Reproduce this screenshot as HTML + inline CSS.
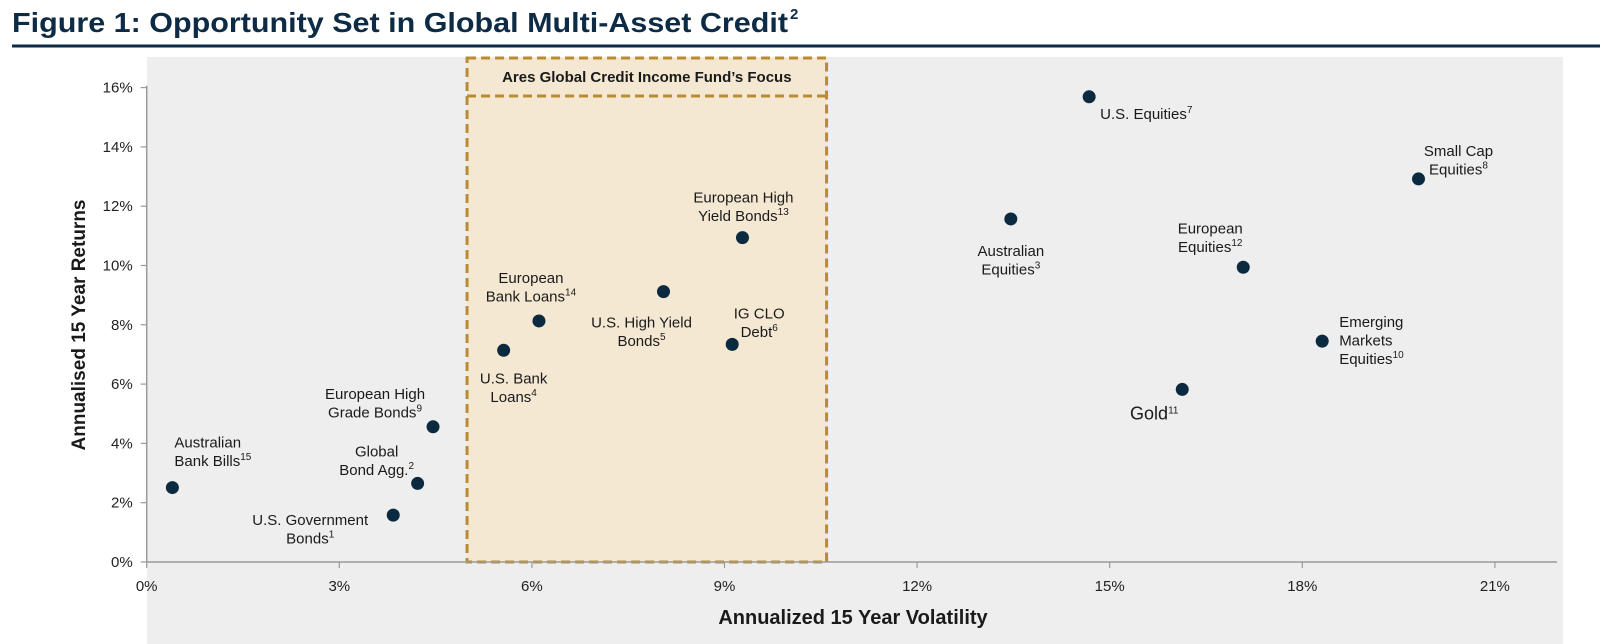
<!DOCTYPE html>
<html><head><meta charset="utf-8"><style>
html,body{margin:0;padding:0;background:#fff;}
svg{display:block;font-family:"Liberation Sans",sans-serif;}
</style></head><body>
<svg id="chart" width="1612" height="644" viewBox="0 0 1612 644" xmlns="http://www.w3.org/2000/svg">
  <text x="12" y="32" font-size="28" font-weight="bold" fill="#0d2b45" textLength="776" lengthAdjust="spacingAndGlyphs">Figure 1: Opportunity Set in Global Multi-Asset Credit</text>
  <text x="790" y="19" font-size="15" font-weight="bold" fill="#0d2b45">2</text>
  <rect x="12" y="44.5" width="1588" height="3" fill="#0d2b45"/>
  <rect x="147" y="57" width="1416" height="587" fill="#eeeeee"/>
  <g id="focus"></g>
  <g id="axes"></g>
  <g id="marks"></g>
  <text transform="translate(85,325) rotate(-90)" text-anchor="middle" font-size="19" font-weight="bold" fill="#1a1a1a">Annualised 15 Year Returns</text>
  <text x="853" y="624" text-anchor="middle" font-size="20" font-weight="bold" fill="#1a1a1a">Annualized 15 Year Volatility</text>
</svg>
<script>
const names = ["Australian Bank Bills","U.S. Government Bonds","Global Bond Agg.","European High Grade Bonds","U.S. Bank Loans","European Bank Loans","U.S. High Yield Bonds","IG CLO Debt","European High Yield Bonds","U.S. Equities","Small Cap Equities","Australian Equities","European Equities","Emerging Markets Equities","Gold"];
const volatility = [0.40,3.84,4.22,4.46,5.56,6.11,8.05,9.12,9.28,14.68,19.81,13.46,17.08,18.31,16.13];
const returns = [2.51,1.58,2.65,4.56,7.14,8.13,9.12,7.34,10.94,15.69,12.92,11.57,9.94,7.45,5.82];
const xTicks = [0,3,6,9,12,15,18,21];
const yTicks = [0,2,4,6,8,10,12,14,16];
const focusRange = [4.99,10.59];
const labelLines = [
 [["Australian",""],["Bank Bills","15"]],
 [["U.S. Government",""],["Bonds","1"]],
 [["Global",""],["Bond Agg.","2"]],
 [["European High",""],["Grade Bonds","9"]],
 [["U.S. Bank",""],["Loans","4"]],
 [["European",""],["Bank Loans","14"]],
 [["U.S. High Yield",""],["Bonds","5"]],
 [["IG CLO",""],["Debt","6"]],
 [["European High",""],["Yield Bonds","13"]],
 [["U.S. Equities","7"]],
 [["Small Cap",""],["Equities","8"]],
 [["Australian",""],["Equities","3"]],
 [["European",""],["Equities","12"]],
 [["Emerging",""],["Markets",""],["Equities","10"]],
 [["Gold","11"]]
];
const labelPos = [
 [2,-45,"start"],[-83,5,"middle"],[-41,-32,"middle"],[-58,-33,"middle"],[10,28,"middle"],[-8,-43,"middle"],
 [-22,31,"middle"],[27,-31,"middle"],[1,-40,"middle"],[11,17,"start"],[40,-28,"middle"],[0,32,"middle"],
 [-33,-39,"middle"],[17,-19,"start"],[-28,25,"middle"]
];
const X0=146.7, XS=64.2, Y0=562, YS=29.65;
const xs=v=>X0+v*XS, ys=v=>Y0-v*YS;
const NS="http://www.w3.org/2000/svg";
function mk(tag,attrs,parent){const e=document.createElementNS(NS,tag);for(const k in attrs)e.setAttribute(k,attrs[k]);parent.appendChild(e);return e;}
const axes=document.getElementById('axes'), marks=document.getElementById('marks'), focus=document.getElementById('focus');
const fx1=xs(focusRange[0]), fx2=xs(focusRange[1]);
const fb=mk('rect',{x:fx1,y:58,width:fx2-fx1,height:Y0-58,fill:'#f5e8d2',stroke:'#b98c32','stroke-width':3,'stroke-dasharray':'9 5'},focus);


const fl=mk('line',{x1:fx1,x2:fx2,y1:96,y2:96,stroke:'#b98c32','stroke-width':3,'stroke-dasharray':'9 5'},focus);


const ft=mk('text',{x:(fx1+fx2)/2,y:82,'text-anchor':'middle','font-size':15,'font-weight':'bold',fill:'#1a1a1a'},focus);
ft.textContent="Ares Global Credit Income Fund\u2019s Focus";


const ya=mk('line',{x1:X0,x2:X0,y1:ys(16)-2,y2:Y0,stroke:'#9a9a9a','stroke-width':1.5},axes);


const xa=mk('line',{x1:X0,x2:1557,y1:Y0,y2:Y0,stroke:'#9a9a9a','stroke-width':1.5},axes);


yTicks.forEach(v=>{
 const t=mk('line',{x1:X0-6,x2:X0,y1:ys(v),y2:ys(v),stroke:'#9a9a9a','stroke-width':1.2},axes);
 
 
 const l=mk('text',{x:X0-14,y:ys(v)+5,'text-anchor':'end','font-size':15,fill:'#222'},axes);
 l.textContent=v+'%';
 
 
});
xTicks.forEach(v=>{
 const t=mk('line',{x1:xs(v),x2:xs(v),y1:Y0,y2:Y0+6,stroke:'#9a9a9a','stroke-width':1.2},axes);
 
 
 const l=mk('text',{x:xs(v),y:Y0+29,'text-anchor':'middle','font-size':15,fill:'#222'},axes);
 l.textContent=v+'%';
 
 
});
names.forEach((n,i)=>{
 const cx=xs(volatility[i]), cy=ys(returns[i]);
 const c=mk('circle',{cx:cx,cy:cy,r:6.5,fill:'#0b2a40'},marks);
 
 
 const [dx,dy,anc]=labelPos[i];
 const fs = n==="Gold"?18:15;
 const g=mk('text',{'text-anchor':anc,'font-size':fs,fill:'#1a1a1a'},marks);
 
 
 labelLines[i].forEach((ln,j)=>{
  const ts=mk('tspan',{x:cx+dx,y:cy+dy+j*18.5+5},g);
  ts.textContent=ln[0];
  if(ln[1]){const s=mk('tspan',{'font-size':10,dy:-6},g);s.textContent=ln[1];}
 });
});
</script>
</body></html>
